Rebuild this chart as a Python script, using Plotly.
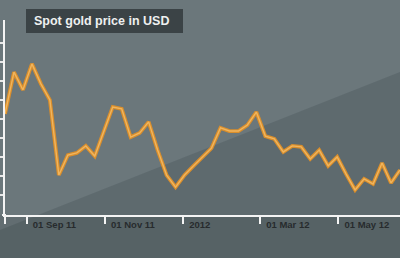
import datetime as dt
import plotly.graph_objects as go

# weekly spot gold price (USD/oz)
start_date = "2011-08-15"
prices = [1756, 1888, 1832, 1914, 1851, 1800, 1563, 1626, 1633, 1655,
          1623, 1699, 1778, 1772, 1683, 1696, 1731, 1642, 1563, 1525,
          1563, 1592, 1620, 1648, 1712, 1702, 1702, 1721, 1762, 1686,
          1677, 1636, 1655, 1652, 1614, 1642, 1592, 1620, 1566, 1516,
          1551, 1535, 1601, 1538, 1579]
tick_dates = ["2011-08-15", "2011-09-01", "2011-11-01", "2012-01-01", "2012-03-01", "2012-05-01"]
tick_labels = ["", "01 Sep 11", "01 Nov 11", "2012", "01 Mar 12", "01 May 12"]
title_text = "Spot gold price in USD"

d0 = dt.date.fromisoformat(start_date)
dates = [d0 + dt.timedelta(days=7 * i) for i in range(len(prices))]

W, H = 400, 258
L, R, T, B = 5, 0, 20, 43
pw, ph = W - L - R, H - T - B

def px(x):
    return (x - L) / pw

def py(y):
    return (H - B - y) / ph

fig = go.Figure()
fig.add_trace(go.Scatter(x=dates, y=prices, mode="lines",
                         line=dict(color="#d98e2c", width=3.8), hoverinfo="skip"))
fig.add_trace(go.Scatter(x=dates, y=prices, mode="lines",
                         line=dict(color="#f0b55e", width=1.4), hoverinfo="skip"))

shapes = [
    # darker lower-right diagonal region
    dict(type="path", xref="paper", yref="paper",
         path=f"M {px(-5)} {py(232)} L {px(405)} {py(70)} L {px(405)} {py(262)} L {px(-5)} {py(262)} Z",
         fillcolor="rgba(40,50,55,0.18)", line=dict(width=0), layer="below"),
    # darker band below axis
    dict(type="rect", xref="paper", yref="paper",
         x0=px(-5), x1=px(405), y0=py(262), y1=py(215),
         fillcolor="rgba(30,38,42,0.12)", line=dict(width=0), layer="below"),
    # title box
    dict(type="rect", xref="paper", yref="paper",
         x0=px(26), x1=px(183), y0=py(33), y1=py(9),
         fillcolor="rgba(50,58,61,0.85)", line=dict(width=0), layer="above"),
    # short left stub of the x axis line
    dict(type="line", xref="paper", yref="paper",
         x0=px(2), x1=px(6), y0=py(215), y1=py(215),
         line=dict(color="#f4f4f4", width=2), layer="above"),
]

fig.update_layout(
    width=W, height=H,
    margin=dict(l=L, r=R, t=T, b=B, pad=0),
    paper_bgcolor="#6b777b", plot_bgcolor="rgba(0,0,0,0)",
    showlegend=False,
    shapes=shapes,
    annotations=[dict(
        text=f"<b>{title_text}</b>", xref="paper", yref="paper",
        x=px(101), y=py(21), xanchor="center", yanchor="middle", showarrow=False,
        font=dict(family="Liberation Sans, Arial, sans-serif",
                  size=12.5, color="#eef0f0"))],
)

x_end = d0 + dt.timedelta(days=pw / 1.28)
fig.update_xaxes(
    type="date", range=[d0, x_end],
    showgrid=False, zeroline=False,
    showline=True, linecolor="#f4f4f4", linewidth=2,
    ticks="outside", ticklen=7, tickwidth=2, tickcolor="#f4f4f4",
    tickvals=tick_dates, ticktext=tick_labels,
    ticklabelposition="outside right", ticklabelshift=4,
    tickfont=dict(family="Liberation Sans, Arial, sans-serif", size=9.5, color="#272b2d", weight="bold"),
)
y_lo = 1500 - 20 * 60 / 19
y_hi = 1500 + 175 * 60 / 19
fig.update_yaxes(
    range=[y_lo, y_hi],
    showgrid=False, zeroline=False,
    showline=True, linecolor="#f4f4f4", linewidth=2,
    ticks="outside", ticklen=3, tickwidth=2, tickcolor="#e8e8e8",
    tickvals=list(range(1500, 1981, 60)), showticklabels=False,
)

fig.write_html("out.html")
